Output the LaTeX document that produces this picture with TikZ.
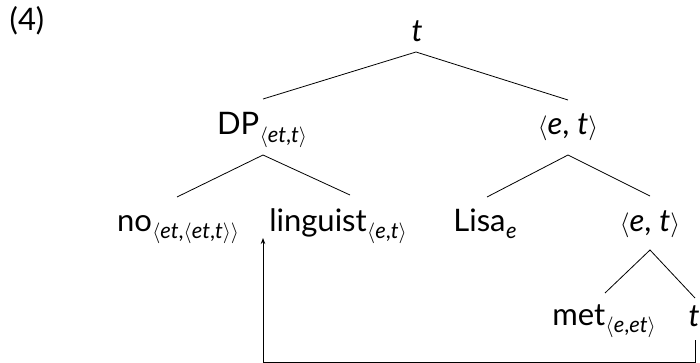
\documentclass[tikz,border=0pt]{standalone}
\usepackage{fontspec}
\setmainfont{Lato}
\usetikzlibrary{calc,arrows.meta}
% semantic types: italic letters, thin angle brackets
\newcommand\tp[1]{\textit{#1}}
\newcommand\lang{$\langle$}
\newcommand\rang{$\rangle$}
% type subscripts, set a little lower than \textsubscript
\newcommand\lsub[1]{\kern0.5pt\raisebox{-7.5pt}{\fontsize{22}{24}\selectfont #1}}
\begin{document}
\begin{tikzpicture}[x=1pt,y=-1pt,
  lbl/.style={anchor=base,inner sep=0pt,font=\fontsize{31}{36}\selectfont},
  edge/.style={line width=0.8pt},
  move/.style={line width=0.8pt,-{Stealth[length=6pt,width=4.5pt]}}]
\useasboundingbox (0,0) rectangle (700,363);

% example number
\node[lbl] (ex) at (27,31) {(4)};

% tree labels
\node[lbl] (root) at (417,42) {\tp{t}};
\node[lbl] (dp)   at (262,135) {DP\lsub{\lang\tp{et},\tp{t}\rang}};
\node[lbl] (et1)  at (568,135) {\lang\tp{e}, \tp{t}\rang};
\node[lbl] (no)   at (178,231) {no\lsub{\lang\tp{et},\lang\tp{et},\tp{t}\rang\rang}};
\node[lbl] (ling) at (338,231) {linguist\lsub{\lang\tp{e},\tp{t}\rang}};
\node[lbl] (lisa) at (485,231) {Lisa\lsub{\tp{e}}};
\node[lbl] (et2)  at (650,231) {\lang\tp{e}, \tp{t}\rang};
\node[lbl] (met)  at (604,325) {met\lsub{\lang\tp{e},\tp{et}\rang}};
\node[lbl] (tt)   at (694,326) {\tp{t}};

% branches
\draw[edge] ($(dp.base)+(1,-36)$) -- ($(root.base)+(-1,10)$) -- ($(et1.base)+(0,-35)$);
\draw[edge] ($(no.base)+(-1,-34)$) -- ($(dp.base)+(1,20)$) -- ($(ling.base)+(12,-36)$);
\draw[edge] ($(lisa.base)+(2,-34)$) -- ($(et1.base)+(0,20)$) -- ($(et2.base)+(0,-35)$);
\draw[edge] ($(met.base)+(1,-32)$) -- ($(et2.base)+(0,19)$) -- ($(tt.base)+(1,-28)$);

% movement arrow from the trace back to the DP position
\coordinate (gap) at (263,238);
\draw[move] ($(tt.base)+(1,14)$) |- ($(gap)+(0,124)$) -- (gap);
\end{tikzpicture}
\end{document}
